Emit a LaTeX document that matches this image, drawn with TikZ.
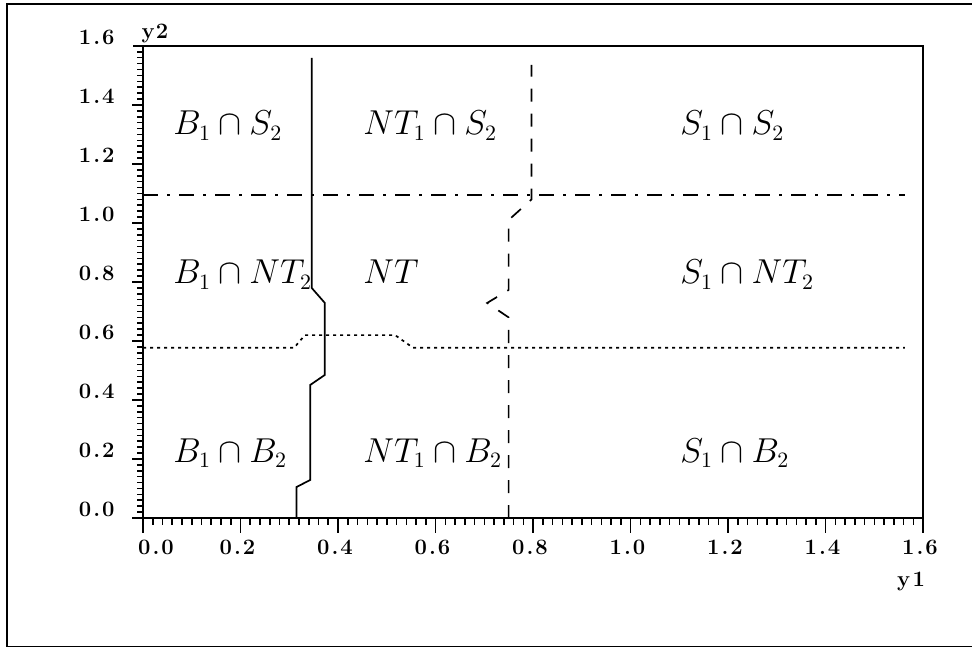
\documentclass[tikz,border=0pt]{standalone}
\usepackage{amsmath}
\newcommand\tkl[2]{#1\kern1pt.\kern1pt#2}
\begin{document}
\begin{tikzpicture}[x=0.5pt,y=0.5pt,
  frameline/.style={line width=0.9pt},
  axisline/.style={line width=1.2pt},
  tickline/.style={line width=0.8pt},
  curve/.style={line width=0.85pt},
  bdashed/.style={curve,dash pattern=on 6.5pt off 6pt},
  bdotted/.style={curve,dash pattern=on 1.5pt off 2pt},
  bdashdot/.style={curve,dash pattern=on 7.5pt off 4.5pt on 1.5pt off 4.5pt},
  region/.style={anchor=base west,inner sep=0pt,font=\fontsize{16}{19}\selectfont},
  ticklab/.style={inner sep=0pt,font=\fontsize{11}{13}\selectfont\bfseries}]
\useasboundingbox (0,0) rectangle (972,648);
\draw[frameline] (990,644) -- (7,644) -- (7,1.5) -- (990,1.5);
\begin{scope}[shift={(143,130)},x=243.75pt,y=147.5pt]
  % axes box
  \draw[axisline] ([xshift=-5pt]0,1.6) -- (1.6,1.6) -- (1.6,0) -- ([xshift=-5.5pt]0,0);
  \draw[axisline] (0,1.6) -- ([yshift=-7.5pt]0,0);
  % x ticks
  \foreach \i in {1,...,79} \draw[tickline] (\i*0.02,0) -- ++(0,-3.5pt);
  \foreach \i in {1,...,8} \draw[tickline] (\i*0.2,0) -- ++(0,-7.5pt);
  % y ticks
  \foreach \i in {1,...,80} \draw[tickline] (0,\i*0.02) -- ++(-3pt,0);
  \foreach \i in {1,...,7} \draw[tickline] (0,\i*0.2) -- ++(-5.5pt,0);
  % y tick labels
  \foreach \v/\a/\b in {0/0/0,0.2/0/2,0.4/0/4,0.6/0/6,0.8/0/8,1.0/1/0,1.2/1/2,1.4/1/4,1.6/1/6}
    \node[ticklab,anchor=east] (yl\a\b) at ([xshift=-14pt,yshift=4.5pt]0,\v) {\tkl{\a}{\b}};
  % x tick labels
  \node[ticklab] (xl00) at ([xshift=6.5pt,yshift=-14.5pt]0,0) {\tkl{0}{0}};
  \foreach \v/\a/\b in {0.2/0/2,0.4/0/4,0.6/0/6,0.8/0/8,1.0/1/0,1.2/1/2,1.4/1/4,1.6/1/6}
    \node[ticklab] (xl\a\b) at ([xshift=-1.5pt,yshift=-14.5pt]\v,0) {\tkl{\a}{\b}};
  % boundaries
  \draw[curve] (0.315,0) -- (0.315,0.105) -- (0.343,0.129) -- (0.343,0.451) -- (0.373,0.485)
     -- (0.373,0.729) -- (0.346,0.78) -- (0.346,1.56);
  \draw[bdashed] (0.75,0) -- (0.75,0.68) -- (0.706,0.729) -- (0.75,0.773) -- (0.75,1.01)
     -- (0.797,1.08) -- (0.797,1.536);
  \draw[bdashdot] (0,1.096) -- (1.563,1.096);
  \draw[bdotted] (0,0.577) -- (0.31,0.577) -- (0.332,0.62) -- (0.517,0.62) -- (0.554,0.577)
     -- (1.563,0.577);
\end{scope}
% axis names
\node[ticklab] (y2lab) at (155,615) {y\kern0.6pt2};
\node[ticklab] (y1lab) at (911,67) {y\kern1.2pt1};
% region labels
\node[region] (r11) at (173,513) {$B_1\cap S_2$};
\node[region] (r12) at (363,513) {$NT_1\cap S_2$};
\node[region] (r13) at (680,513) {$S_1\cap S_2$};
\node[region] (r21) at (173,364) {$B_1\cap NT_2$};
\node[region] (r22) at (363,364) {$NT$};
\node[region] (r23) at (680,364) {$S_1\cap NT_2$};
\node[region] (r31) at (173,186) {$B_1\cap B_2$};
\node[region] (r32) at (363,186) {$NT_1\cap B_2$};
\node[region] (r33) at (680,186) {$S_1\cap B_2$};
\end{tikzpicture}
\end{document}
